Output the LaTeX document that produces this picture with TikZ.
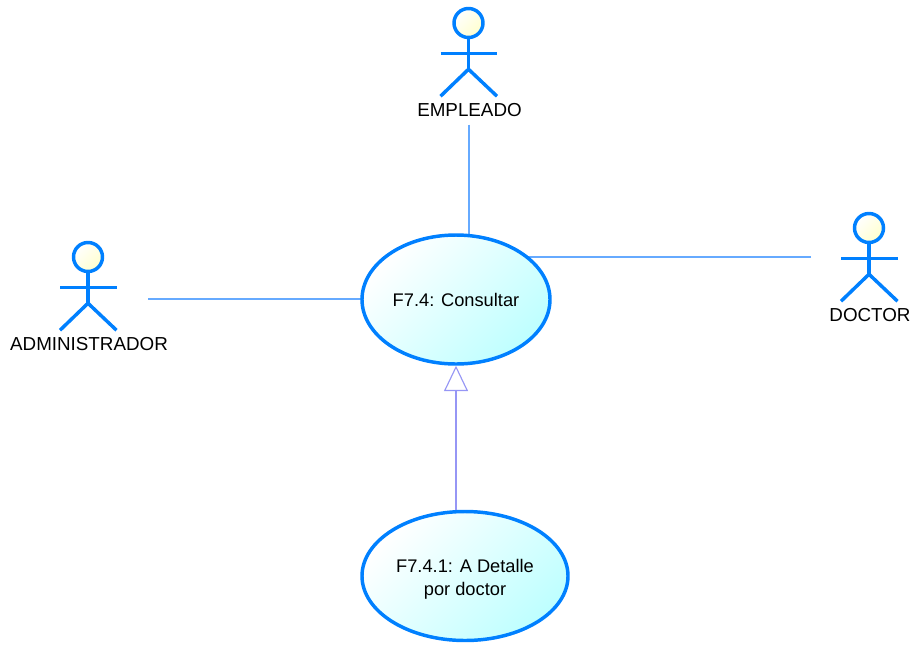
\documentclass[tikz,border=0pt]{standalone}
\usepackage{fontspec}
\setmainfont{Liberation Sans}
\usetikzlibrary{arrows.meta, calc, positioning, shapes.geometric, backgrounds}
\definecolor{actorblue}{RGB}{0,128,255}
\definecolor{linkblue}{RGB}{102,170,255}
\definecolor{genviolet}{RGB}{150,150,245}
\definecolor{headyellow}{RGB}{255,255,205}
\definecolor{usecyan}{RGB}{190,255,255}
\tikzset{
    usecase/.style={ellipse, draw=actorblue, line width=2.6pt, align=center, font=\fontsize{13.7}{17.2}\selectfont, left color=white, right color=usecyan, shading angle=45, inner sep=0pt},
    actorline/.style={draw=actorblue, line width=2.6pt},
    actorhead/.style={circle, draw=actorblue, line width=2.6pt, minimum size=29*0.75pt, inner sep=0pt, left color=white, right color=headyellow, shading angle=45},
    actorlabel/.style={font=\fontsize{14.1}{16}\selectfont, inner sep=0pt, minimum height=12pt},
    assoc/.style={draw=linkblue, line width=0.9pt},
    gener/.style={draw=genviolet, line width=0.85pt, -{Triangle[open, fill=white, length=19pt, width=18pt]}}
}
% name, x of head, y of head, label
\newcommand{\actor}[4]{
    \node[actorhead] (#1head) at (#2,#3) {};
    \draw[actorline] (#1head.south) -- ++(0,30) coordinate (#1hip);
    \draw[actorline] ($(#1head.south)+(-28,14)$) -- ($(#1head.south)+(28.5,14)$);
    \draw[actorline] ($(#1hip)+(-28,27)$) -- (#1hip) -- ($(#1hip)+(28.5,27)$);
    \node[actorlabel] (#1) at ($(#1hip)+(1,41)$) {#4};
}
\begin{document}
\begin{tikzpicture}[x=0.75pt, y=-0.75pt, >=Stealth]
    \useasboundingbox (0,0) rectangle (914,644);

    % Actors
    \actor{empleado}{468.5}{23}{EMPLEADO}
    \actor{administrador}{88}{257}{ADMINISTRADOR}
    \actor{doctor}{869}{228}{DOCTOR}

    % Use cases
    \node[usecase, minimum width=188*0.75pt, minimum height=129*0.75pt] (consultar) at (456,299.5) {F7.4: Consultar};
    \node[usecase, minimum width=206*0.75pt, minimum height=129*0.75pt] (detalle) at (465,576) {\raisebox{-2.25pt}[10pt][3pt]{F7.4.1: A Detalle}\\\raisebox{-2.25pt}[10pt][3pt]{por doctor}};

    % Free ends of the associations
    \coordinate (adminend) at (148,299);
    \coordinate (doctorend) at (811,257);

    % Connectors
    \begin{scope}[on background layer]
        \draw[assoc] ($(empleado.south)+(-0.5,6)$) -- ($(empleado.south |- consultar.center)+(-0.5,0)$);
        \draw[assoc] (adminend) -- (consultar.center |- adminend);
        \draw[assoc] (doctorend) -- (consultar.center |- doctorend);
        \draw[gener] (consultar.south |- detalle.center) -- (consultar.south);
    \end{scope}
\end{tikzpicture}
\end{document}
